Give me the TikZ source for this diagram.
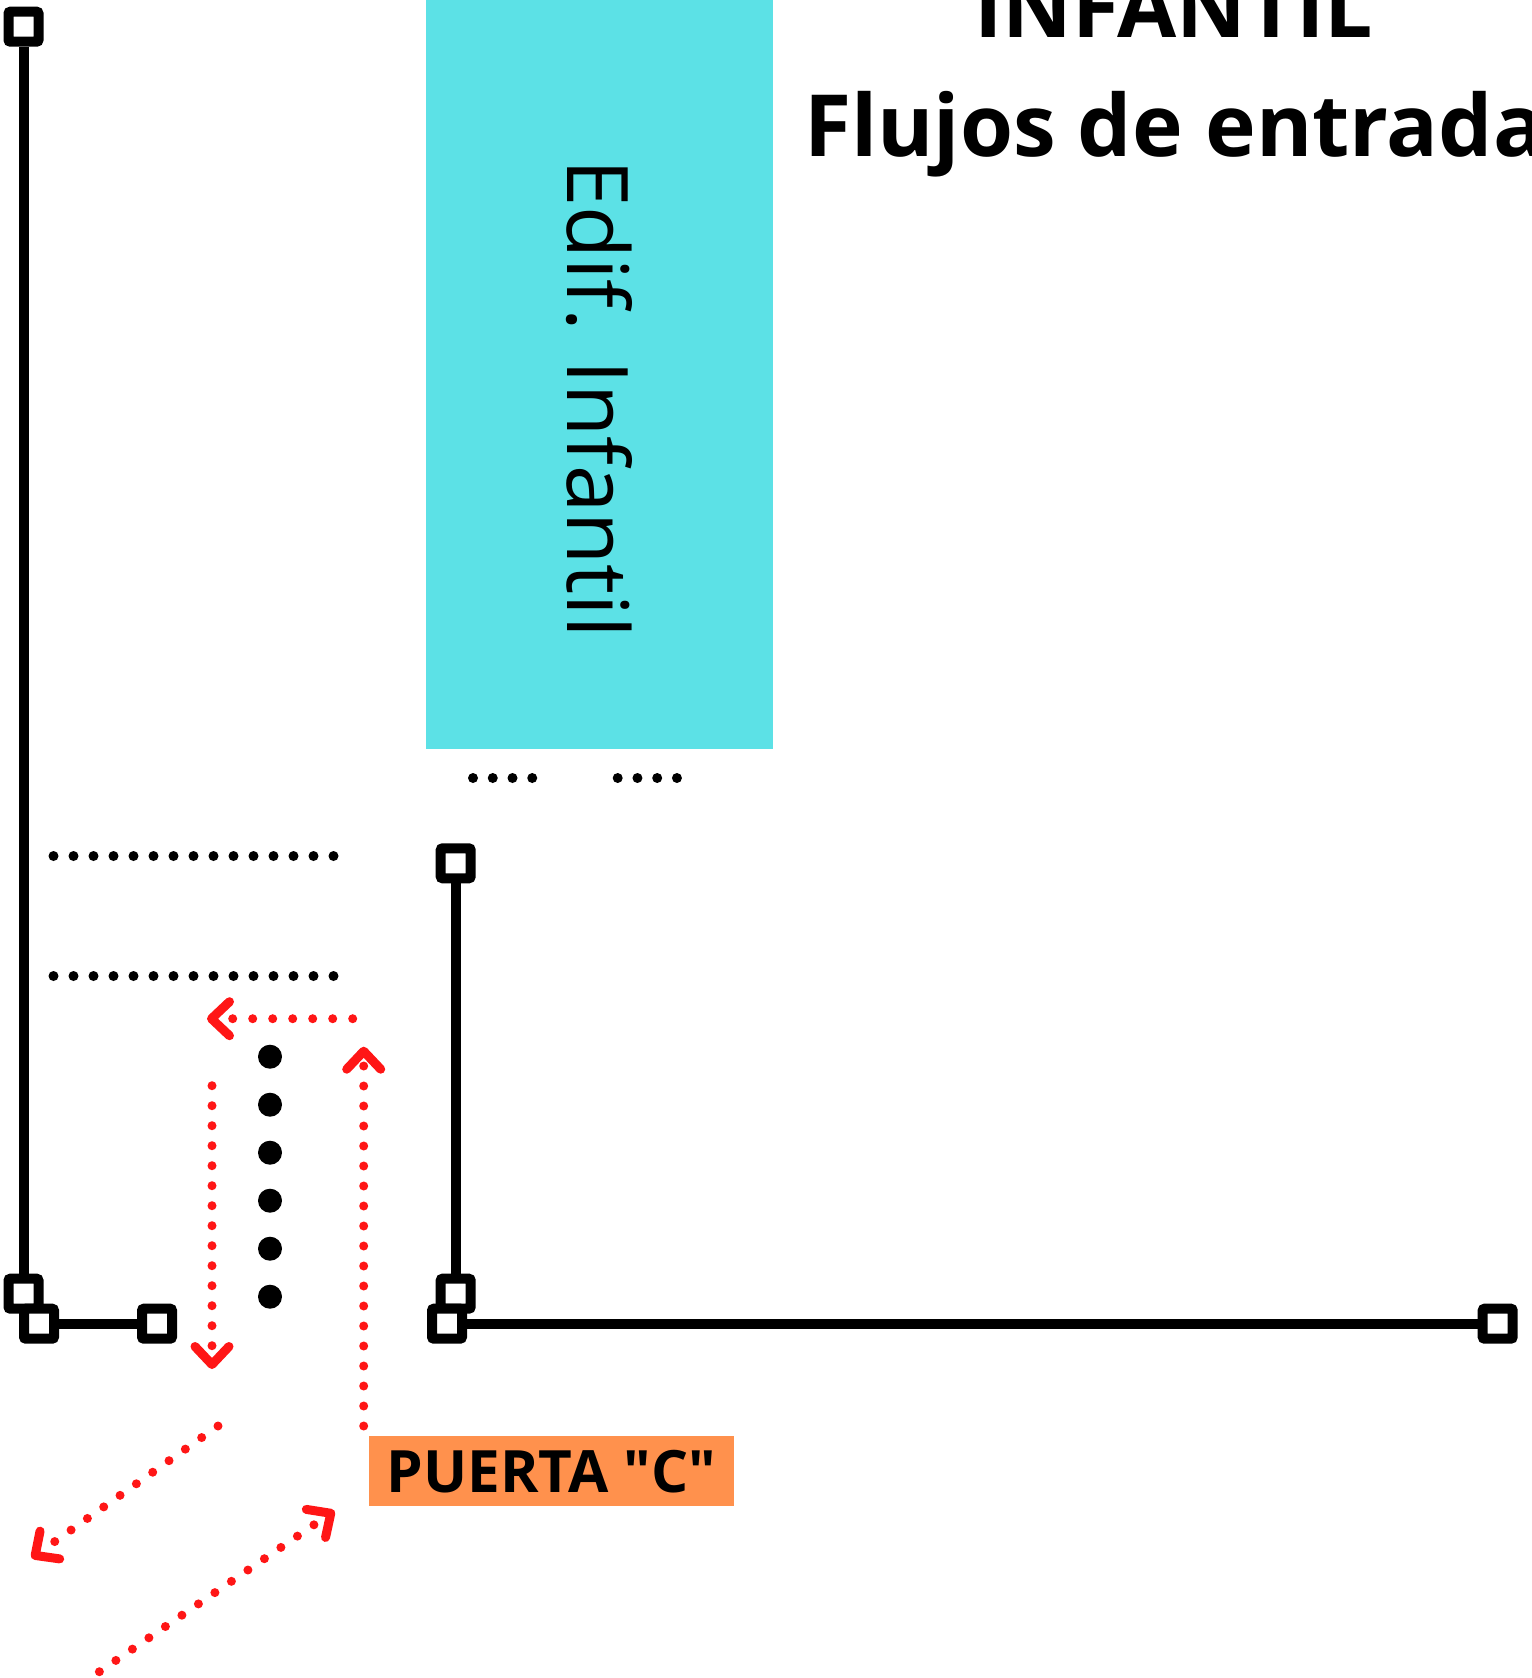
\documentclass[tikz,border=0pt]{standalone}
\usepackage{fontspec}
\setmainfont{Open Sans}
\usetikzlibrary{arrows.meta}
\definecolor{edifcyan}{HTML}{5CE1E6}
\definecolor{puertaorange}{HTML}{FF914D}
\definecolor{flowred}{HTML}{FF1616}

\begin{document}
\begin{tikzpicture}[x=1pt, y=-1pt,
		endsq/.style={draw, line width=10pt, fill=white, rounded corners=2pt,
			minimum size=30pt, inner sep=0pt},
		wall/.style={line width=10pt},
		dotrow/.style={line width=10pt, line cap=round, dash pattern=on 0pt off 20pt},
		flow/.style={draw=flowred, line width=9pt, line cap=round,
			dash pattern=on 0pt off 20pt,
			-{Straight Barb[length=18pt, width=34pt, round]}}
	]
	% page, pixel for pixel
	\fill[white] (0,0) rectangle (1531,1678);
	\useasboundingbox (0,0) rectangle (1531,1678);

	% building block and its label
	\node[fill=edifcyan, minimum width=346.7pt, minimum height=748.7pt, inner sep=0pt]
		(edif) at (599.2,374.35) {};
	\node[rotate=-90, anchor=base, inner sep=0pt, font=\fontsize{85}{100}\selectfont]
		(ediflab) at (567,398.5) {Edif. Infantil};

	% title, cut by the top and right edges
	\node[anchor=base west, inner sep=0pt, font=\fontsize{85.8}{100}\selectfont\bfseries]
		(title1) at (974,38) {INFANTIL};
	\node[anchor=base west, inner sep=0pt, font=\fontsize{85.8}{100}\selectfont\bfseries]
		(title2) at (804,156) {Flujos de entrada};

	% dotted rows
	\draw[dotrow, dash pattern=on 0pt off 19.75pt] (473,778) -- (533.5,778);
	\draw[dotrow, dash pattern=on 0pt off 19.75pt] (617.7,778) -- (678.5,778);
	\draw[dotrow] (53.5,856) -- (335,856);
	\draw[dotrow] (53.5,976) -- (335,976);
	\draw[dotrow, line width=24pt, dash pattern=on 0pt off 48pt] (270,1056.7) -- (270,1298);

	% fence posts and walls
	\node[endsq] (s1) at (23.5,26.7) {};
	\node[endsq] (s2) at (23.5,1293.7) {};
	\node[endsq] (s3) at (39,1323.7) {};
	\node[endsq] (s4) at (157,1323.7) {};
	\node[endsq] (s5) at (455.7,863.3) {};
	\node[endsq] (s6) at (455.7,1293.7) {};
	\node[endsq] (s7) at (447,1323.7) {};
	\node[endsq] (s8) at (1497.7,1323.7) {};
	\draw[wall] (s1) -- (s2);
	\draw[wall] (s3) -- (s4);
	\draw[wall] (s5) -- (s6);
	\draw[wall] (s7) -- (s8);

	% gate
	\node[fill=puertaorange, minimum width=365pt, minimum height=70.5pt, inner sep=0pt,
		font=\fontsize{58.4}{70}\selectfont\bfseries] (puerta) at (551.5,1471.2)
		{PUERTA \textquotedbl C\textquotedbl};

	% entry flows
	\coordinate (leftS) at (352.7,1018.7);
	\coordinate (leftE) at (207,1018.7);
	\coordinate (upS) at (363.7,1426);
	\coordinate (upE) at (363.7,1046.7);
	\coordinate (downS) at (212,1085.7);
	\coordinate (downE) at (212,1369);
	\coordinate (outS) at (218,1426);
	\coordinate (outE) at (31.5,1558);
	\coordinate (inS) at (99.4,1671.7);
	\coordinate (inE) at (334.5,1510.7);
	\draw[flow] (leftS) -- (leftE);
	\draw[flow] (upS) -- (upE);
	\draw[flow] (downS) -- (downE);
	\draw[flow] (outS) -- (outE);
	\draw[flow] (inS) -- (inE);
\end{tikzpicture}
\end{document}
